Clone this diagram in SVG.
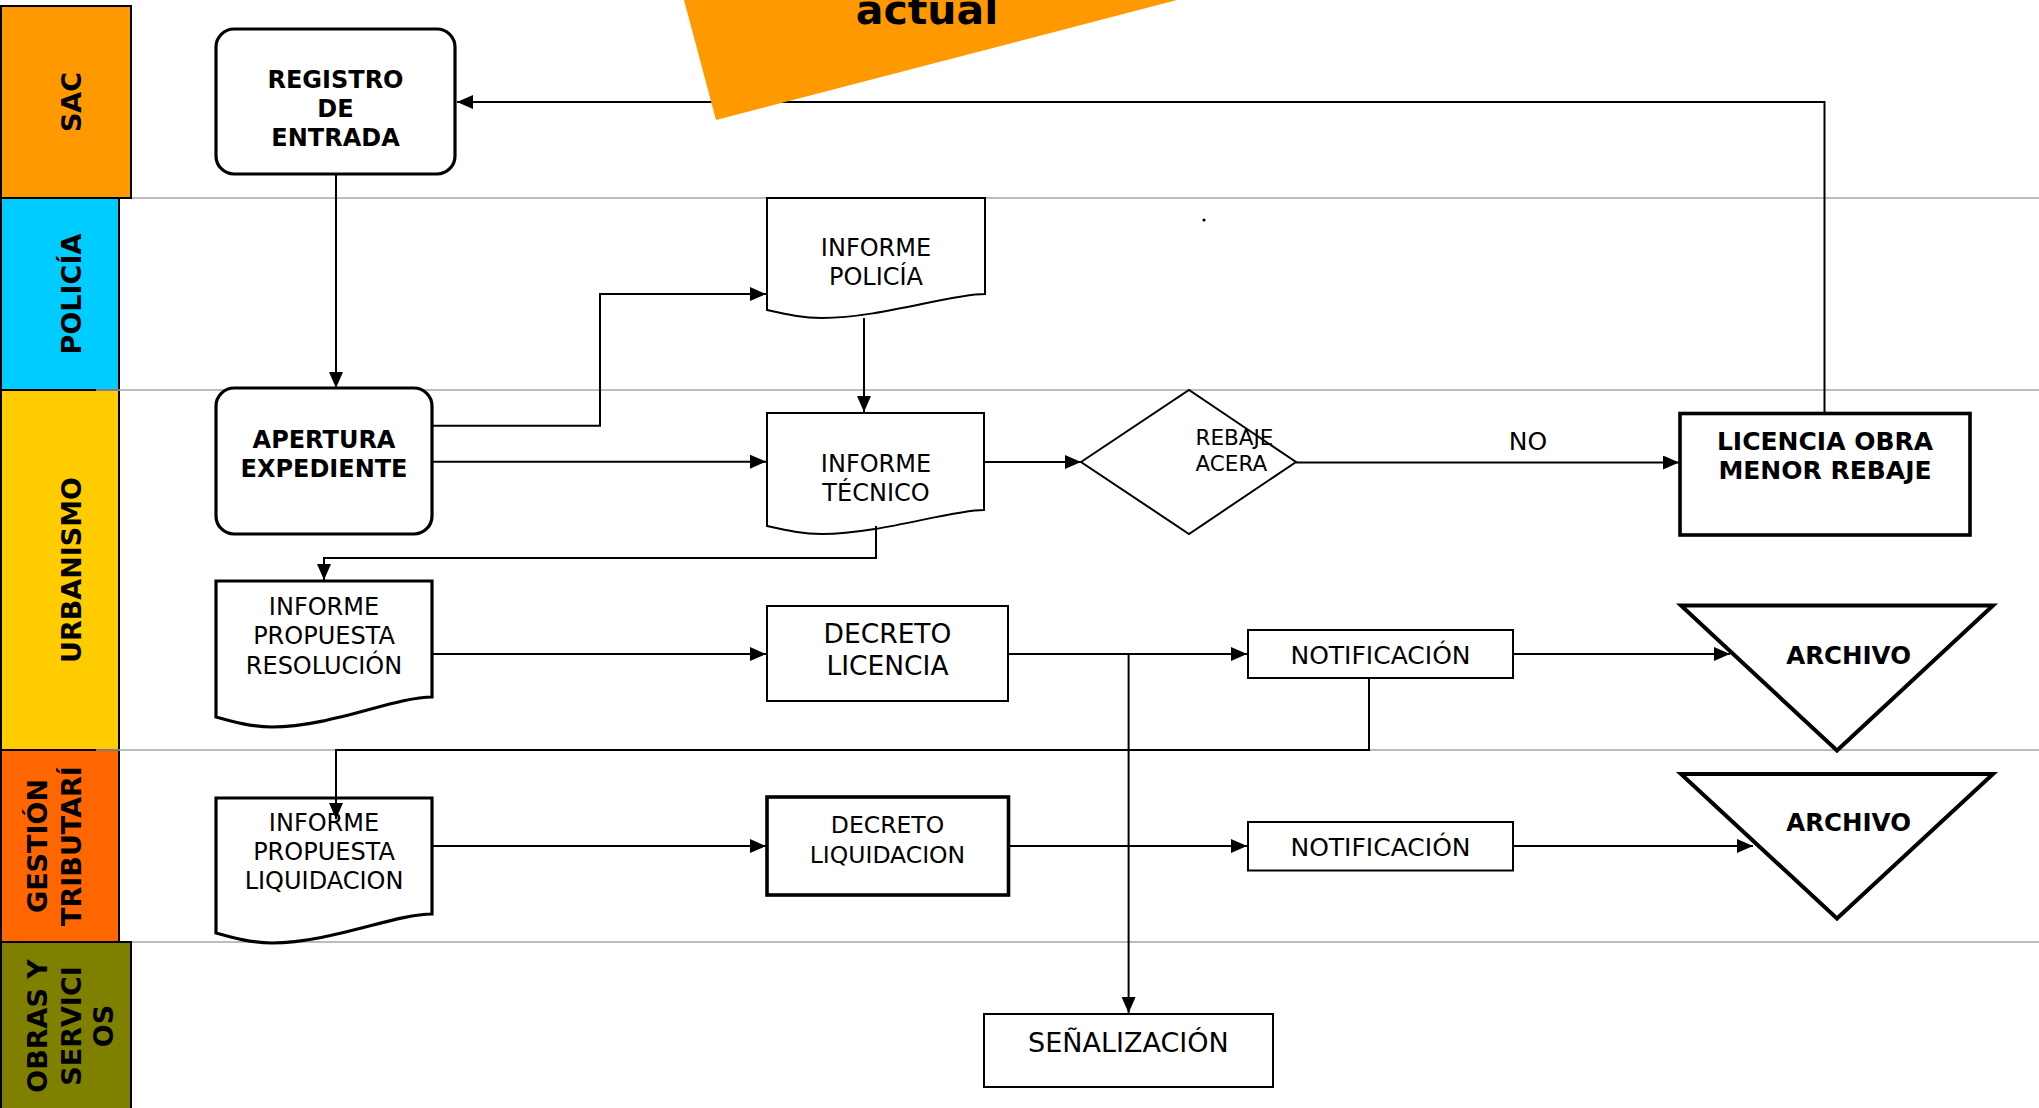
<svg xmlns="http://www.w3.org/2000/svg" width="2039" height="1108" viewBox="0 0 2039 1108">
<style>
.lane{stroke:#000;stroke-width:2}
.sep{stroke:#A6A6A6;stroke-width:1.5;fill:none}
.ll{font-family:"DejaVu Sans",Verdana,sans-serif;font-weight:bold;font-size:27px;text-anchor:middle;fill:#000}
.c{fill:none;stroke:#000;stroke-width:2;marker-end:url(#ah)}
.cn{fill:none;stroke:#000;stroke-width:2}
.thin{fill:#fff;stroke:#000;stroke-width:2}
.thick{fill:#fff;stroke:#000;stroke-width:3.2}
.t{font-family:"DejaVu Sans",Verdana,sans-serif;font-size:24px;text-anchor:middle;fill:#000}
.b{font-family:"DejaVu Sans",Verdana,sans-serif;font-weight:bold;font-size:24px;text-anchor:middle;fill:#000}
</style>
<defs>
<marker id="ah" markerWidth="16" markerHeight="14" refX="16" refY="7" orient="auto" markerUnits="userSpaceOnUse"><path d="M0,0 L16,7 L0,14 Z" fill="#000"/></marker>
<clipPath id="gclip"><rect x="0" y="750" width="99" height="192"/></clipPath>
</defs>
<rect width="2039" height="1108" fill="#fff"/>
<g id="lanes">
<rect class="lane" x="1" y="6" width="130" height="192" fill="#FF9900"/>
<rect class="lane" x="1" y="198" width="118" height="192" fill="#00CCFF"/>
<rect class="lane" x="1" y="390" width="118" height="360" fill="#FFCC00"/>
<rect class="lane" x="1" y="750" width="118" height="192" fill="#FF6600"/>
<rect class="lane" x="1" y="942" width="130" height="170" fill="#808000"/>
<path class="sep" d="M132,198 H2039 M96,390 H2039 M96,750 H2039 M132,942 H2039"/>
<text class="ll" transform="translate(81,102) rotate(-90)">SAC</text>
<text class="ll" transform="translate(81,294) rotate(-90)">POLICÍA</text>
<text class="ll" transform="translate(81,570) rotate(-90)">URBANISMO</text>
<text class="ll" transform="translate(47,846) rotate(-90)">GESTIÓN</text>
<text class="ll" transform="translate(81,846) rotate(-90)">TRIBUTARÍ</text>
<text class="ll" transform="translate(113,846) rotate(-90)" clip-path="url(#gclip)">A</text>
<text class="ll" transform="translate(47,1026) rotate(-90)">OBRAS Y</text>
<text class="ll" transform="translate(81,1026) rotate(-90)">SERVICI</text>
<text class="ll" transform="translate(113,1026) rotate(-90)">OS</text>
</g>
<g id="n-registro">
<rect class="thick" x="216" y="29" width="239" height="145" rx="18"/>
<text class="b" x="335.5" y="88">REGISTRO</text>
<text class="b" x="335.5" y="117">DE</text>
<text class="b" x="335.5" y="146">ENTRADA</text>
</g>
<g id="n-apertura">
<rect class="thick" x="216" y="388" width="216" height="146" rx="18"/>
<text class="b" x="324" y="448">APERTURA</text>
<text class="b" x="324" y="477">EXPEDIENTE</text>
</g>
<g id="n-informe-policia">
<path class="thin" d="M767,198 H985 V294 C950,294 880,318 822,318 C802,318 785,314 767,310 Z"/>
<text class="t" x="876" y="256">INFORME</text>
<text class="t" x="876" y="285">POLICÍA</text>
</g>
<g id="n-informe-tecnico">
<path class="thin" d="M767,413 H984 V510 C950,510 880,534 822,534 C802,534 785,530 767,526 Z"/>
<text class="t" x="876" y="472">INFORME</text>
<text class="t" x="876" y="501">TÉCNICO</text>
</g>
<g id="n-rebaje">
<path class="thin" d="M1081,462 L1189,390 L1296,462 L1189,534 Z"/>
<text class="t" x="1195.5" y="445" style="text-anchor:start;font-size:21.5px">REBAJE</text>
<text class="t" x="1195.5" y="471" style="text-anchor:start;font-size:21.5px">ACERA</text>
</g>
<g id="n-licencia-obra">
<rect class="thick" x="1680" y="413.5" width="290" height="121.5" style="stroke-width:3.6"/>
<text class="b" x="1825" y="450" style="font-size:25px">LICENCIA OBRA</text>
<text class="b" x="1825" y="479" style="font-size:25px">MENOR REBAJE</text>
</g>
<g id="n-ipr">
<path class="thick" d="M216,581 H432 V697 C395,697 330,727 272,727 C252,727 234,722 216,717 Z"/>
<text class="t" x="324" y="615">INFORME</text>
<text class="t" x="324" y="644">PROPUESTA</text>
<text class="t" x="324" y="674">RESOLUCIÓN</text>
</g>
<g id="n-decreto-licencia">
<rect class="thin" x="767" y="606" width="241" height="95"/>
<text class="t" x="887.5" y="643" style="font-size:26.5px">DECRETO</text>
<text class="t" x="887.5" y="675" style="font-size:26.5px">LICENCIA</text>
</g>
<g id="n-notif-1">
<rect class="thin" x="1248" y="630" width="265" height="48"/>
<text class="t" x="1380.5" y="664" style="font-size:25px">NOTIFICACIÓN</text>
</g>
<g id="n-archivo-1">
<path class="thick" d="M1681,605.5 H1993 L1837,750.5 Z" style="stroke-width:4"/>
<text class="b" x="1848.6" y="664" style="font-size:24.5px">ARCHIVO</text>
</g>
<g id="n-ipl">
<path class="thick" d="M216,798 H432 V914 C395,914 330,943 272,943 C252,943 234,938 216,933 Z"/>
<text class="t" x="324" y="831">INFORME</text>
<text class="t" x="324" y="860">PROPUESTA</text>
<text class="t" x="324" y="889">LIQUIDACION</text>
</g>
<g id="n-decreto-liquidacion">
<rect class="thick" x="767" y="797" width="241.5" height="98" style="stroke-width:3.6"/>
<text class="t" x="887.5" y="833" style="font-size:23.5px">DECRETO</text>
<text class="t" x="887.5" y="863" style="font-size:23.5px">LIQUIDACION</text>
</g>
<g id="n-notif-2">
<rect class="thin" x="1248" y="822" width="265" height="48.5"/>
<text class="t" x="1380.5" y="856" style="font-size:25px">NOTIFICACIÓN</text>
</g>
<g id="n-archivo-2">
<path class="thick" d="M1681,774 H1993 L1837,918.5 Z" style="stroke-width:4"/>
<text class="b" x="1848.6" y="831" style="font-size:24.5px">ARCHIVO</text>
</g>
<g id="n-senalizacion">
<rect class="thin" x="984" y="1014" width="289" height="73"/>
<text class="t" x="1128.4" y="1052" style="font-size:27px">SEÑALIZACIÓN</text>
</g>
<g id="connectors">
<path class="c" d="M336,174 V388"/>
<path class="c" d="M1824.5,413 V102 H457"/>
<path class="c" d="M432,425.7 H600 V294 H766"/>
<path class="c" d="M432,461.7 H766"/>
<path class="c" d="M864,318 V412"/>
<path class="c" d="M984,462 H1081"/>
<path class="c" d="M1296,462.5 H1679"/>
<path class="c" d="M876,526 V558 H324 V580"/>
<path class="c" d="M432,654 H766"/>
<path class="c" d="M1008,654 H1247"/>
<path class="c" d="M1128.6,654 V1013"/>
<path class="c" d="M1513,654 H1730"/>
<path class="c" d="M1369,678 V750 H336 V819"/>
<path class="c" d="M432,846 H766"/>
<path class="c" d="M1008.5,846 H1247"/>
<path class="c" d="M1513,846 H1753"/>
<text class="t" x="1528" y="450" style="font-size:25px">NO</text>
</g>
<circle cx="1204" cy="220" r="1.6" fill="#000"/>
<g id="banner">
<polygon points="684,0 1177,0 716,120" fill="#FF9900"/>
<text x="927" y="24" style="font-family:'DejaVu Sans',Verdana,sans-serif;font-weight:bold;font-size:41px;text-anchor:middle;fill:#000">actual</text>
</g>
</svg>
